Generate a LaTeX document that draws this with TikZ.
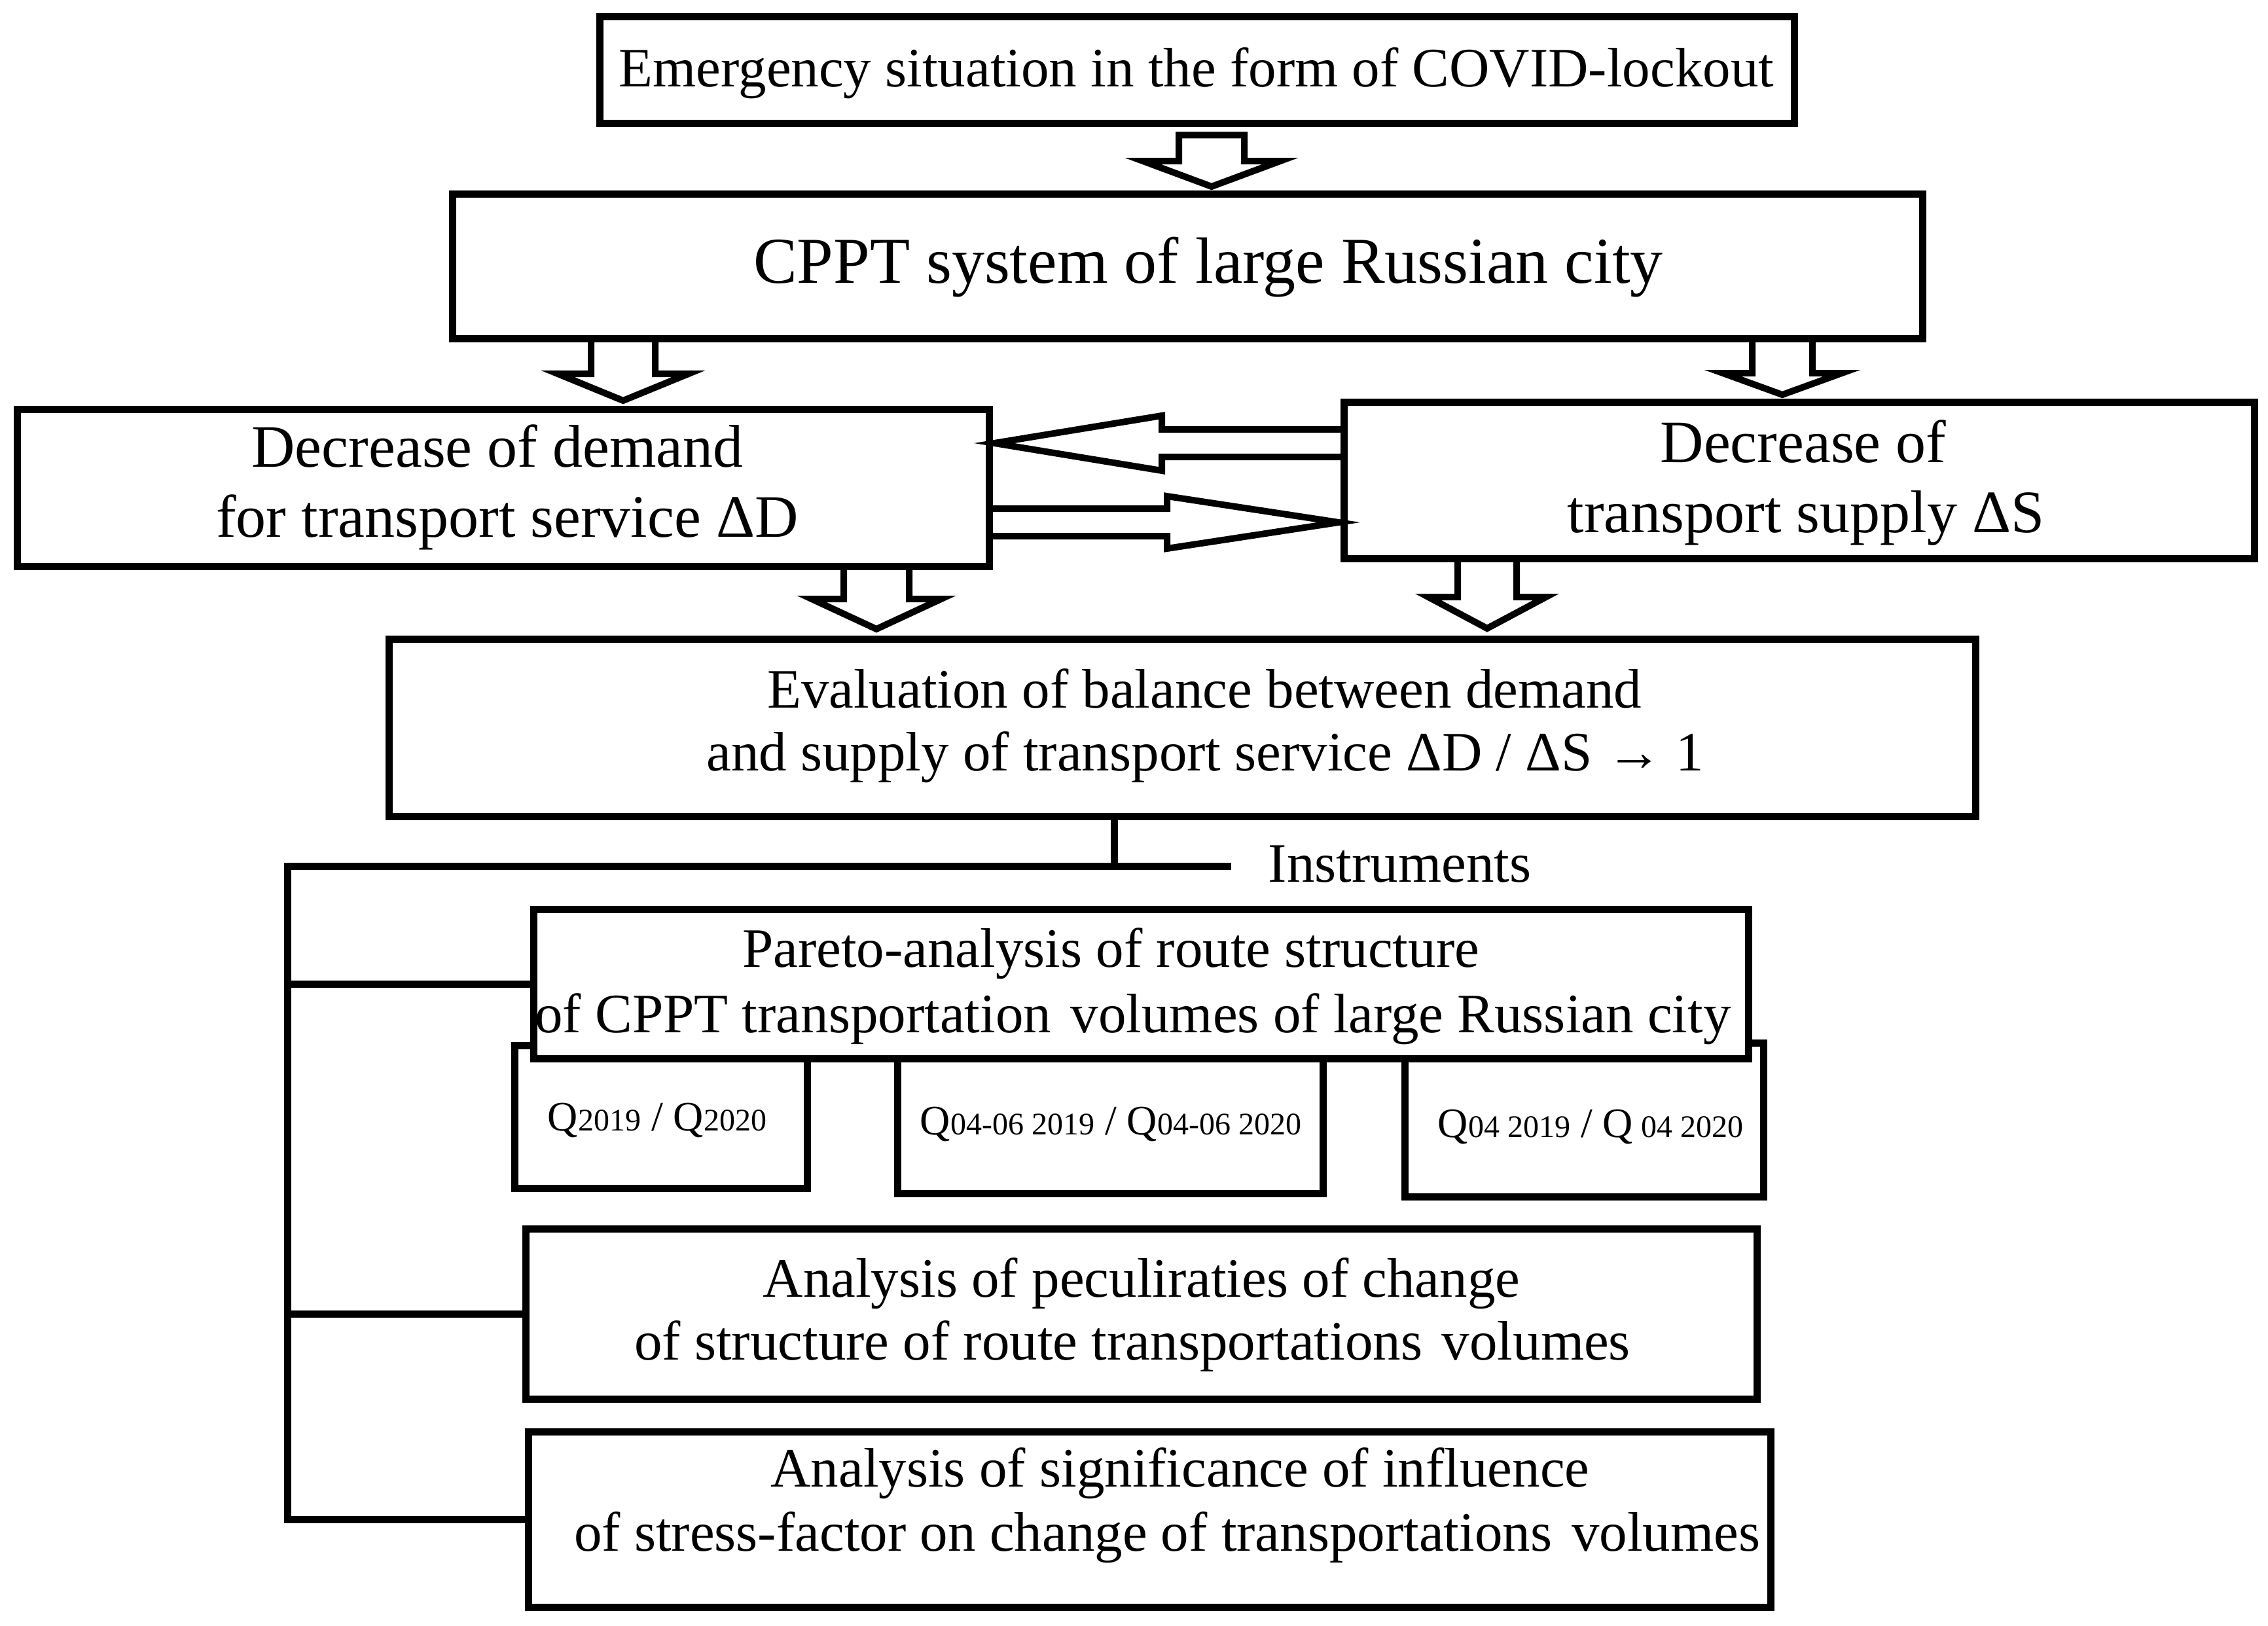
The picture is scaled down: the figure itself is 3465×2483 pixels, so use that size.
\documentclass[tikz,border=0pt]{standalone}
\usepackage{fontspec}
\setmainfont{Liberation Serif}
\usetikzlibrary{fit,calc}
\newcommand{\fA}{\fontsize{21.25pt}{25pt}\selectfont}
\newcommand{\fB}{\fontsize{23pt}{27pt}\selectfont}
\newcommand{\fC}{\fontsize{25pt}{30pt}\selectfont}
\newcommand{\fQ}{\fontsize{16pt}{19pt}\selectfont}
\newcommand{\fS}{\fontsize{12pt}{14pt}\selectfont}
\newcommand{\qq}[1]{{\fQ Q}{\fS #1}}
\newcommand{\xsp}{\hspace{0.1em}}
% src, tgt, x, shaft half, head half, head len, top gap, tip offset
\newcommand{\blkdown}[8]{%
  \coordinate (ax) at (#3,0);
  \coordinate (atop) at ($(ax |- #1.south)+(0,#7)$);
  \coordinate (atip) at ($(ax |- #2.north)+(0,-#8)$);
  \draw[blk] ($(atop)+(-#4,0)$) -- ($(atip)+(-#4,-#6)$) -- ($(atip)+(-#5,-#6)$)
    -- (atip) -- ($(atip)+(#5,-#6)$) -- ($(atip)+(#4,-#6)$) -- ($(atop)+(#4,0)$) -- cycle;}
\begin{document}
\begin{tikzpicture}[x=0.25pt,y=-0.25pt,
  box/.style={draw, rectangle, line width=2.75pt, inner sep=0pt, outer sep=0pt, fill=white},
  blk/.style={draw, line width=2.5pt, line join=miter, miter limit=10},
  conn/.style={draw, line width=2.75pt, line join=miter},
  txt/.style={inner sep=0pt, anchor=base}]
\useasboundingbox (0,0) rectangle (3465,2483);
\fill[white] (0,0) rectangle (3465,2483);

% boxes
\node[box, fit={(916,25.5) (2741,188.5)}] (b1) {};
\node[box, fit={(691,296) (2937,517)}] (b2) {};
\node[box, fit={(26,625) (1511,865)}] (b3) {};
\node[box, fit={(2053,614) (3444,853)}] (b4) {};
\node[box, fit={(594,976) (3018,1247)}] (b5) {};
\node[box, fit={(786,1597) (1233,1815)}] (q1) {};
\node[box, fit={(1371,1600) (2021,1823)}] (q2) {};
\node[box, fit={(2146,1593) (2694,1828)}] (q3) {};
\node[box, fit={(815,1389) (2671,1617)}] (par) {};
\node[box, fit={(803,1877) (2684,2137)}] (an1) {};
\node[box, fit={(807,2187) (2705,2455)}] (an2) {};

% texts
\node[txt, font=\fA] (t1) at (1828,133) {Emergency situation in the form of COVID-lockout};
\node[txt, font=\fC] (t2) at (1846,432) {CPPT system of large Russian city};
\node[txt, font=\fB] (t3a) at (760,713) {Decrease of demand};
\node[txt, font=\fB] (t3b) at (775,820) {for transport service ΔD};
\node[txt, font=\fB] (t4a) at (2755,706) {Decrease of};
\node[txt, font=\fB] (t4b) at (2759,813) {transport supply ΔS};
\node[txt, font=\fA] (t5a) at (1840,1081) {Evaluation of balance between demand};
\node[txt, font=\fA] (t5b) at (1841,1177) {and supply of transport service ΔD / ΔS → 1};
\node[txt, font=\fA, anchor=base west] (tin) at (1937,1347) {Instruments};
\node[txt, font=\fA] (tpa) at (1697,1477) {Pareto-analysis of route structure};
\node[txt, font=\fA] (tpb) at (1731,1577) {of CPPT transportation\xsp{} volumes of large Russian city};
\node[txt] (tq1) at (1004,1727) {\qq{2019}{\fQ\ / }\qq{2020}};
\node[txt] (tq2) at (1697,1733) {\qq{04-06 2019}{\fQ\ / }\qq{04-06 2020}};
\node[txt] (tq3) at (2430,1737) {\qq{04 2019}{\fQ\ / }{\fQ Q}{\fS\ 04 2020}};
\node[txt, font=\fA] (ta1) at (1744,1981) {Analysis of peculiraties of change};
\node[txt, font=\fA] (ta1b) at (1730,2077) {of structure of route transportations\xsp{} volumes};
\node[txt, font=\fA] (ta2) at (1803,2271) {Analysis of significance of influence};
\node[txt, font=\fA] (ta2b) at (1783,2369) {of stress-factor on change of transportations\xsp{} volumes};

% block arrows down
\blkdown{b1}{b2}{1851}{50}{105}{39}{18}{11}
\blkdown{b2}{b3}{952}{49}{100}{41}{0}{13}
\blkdown{b2}{b4}{2723}{46}{91}{33}{0}{11}
\blkdown{b3}{b5}{1339}{50}{99}{46}{0}{15}
\blkdown{b4}{b5}{2272}{45}{90}{48}{0}{16}

% horizontal block arrows
\coordinate (h1) at (0,677);
\coordinate (h2) at (0,798);
\draw[blk] ($(h1 -| b4.west)+(0,-21)$) -- ($(h1 -| b3.east)+(264,-21)$) -- ($(h1 -| b3.east)+(264,-42)$)
  -- ($(h1 -| b3.east)+(8,0)$) -- ($(h1 -| b3.east)+(264,42)$) -- ($(h1 -| b3.east)+(264,21)$)
  -- ($(h1 -| b4.west)+(0,21)$) -- cycle;
\draw[blk] ($(h2 -| b3.east)+(0,-21)$) -- ($(h2 -| b4.west)+(-270,-21)$) -- ($(h2 -| b4.west)+(-270,-40)$)
  -- ($(h2 -| b4.west)+(-8,0)$) -- ($(h2 -| b4.west)+(-270,40)$) -- ($(h2 -| b4.west)+(-270,21)$)
  -- ($(h2 -| b3.east)+(0,21)$) -- cycle;

% instrument connectors
\coordinate (bk) at (439,1323);
\coordinate (ie) at (1881,1323);
\coordinate (ej) at (1702,1323);
\draw[conn] (ie) -- (bk) |- (an2.west);
\draw[conn] (bk) |- (par.west);
\draw[conn] (bk) |- (an1.west);
\draw[conn] (b5.south -| ej) -- (ej);
\end{tikzpicture}
\end{document}
